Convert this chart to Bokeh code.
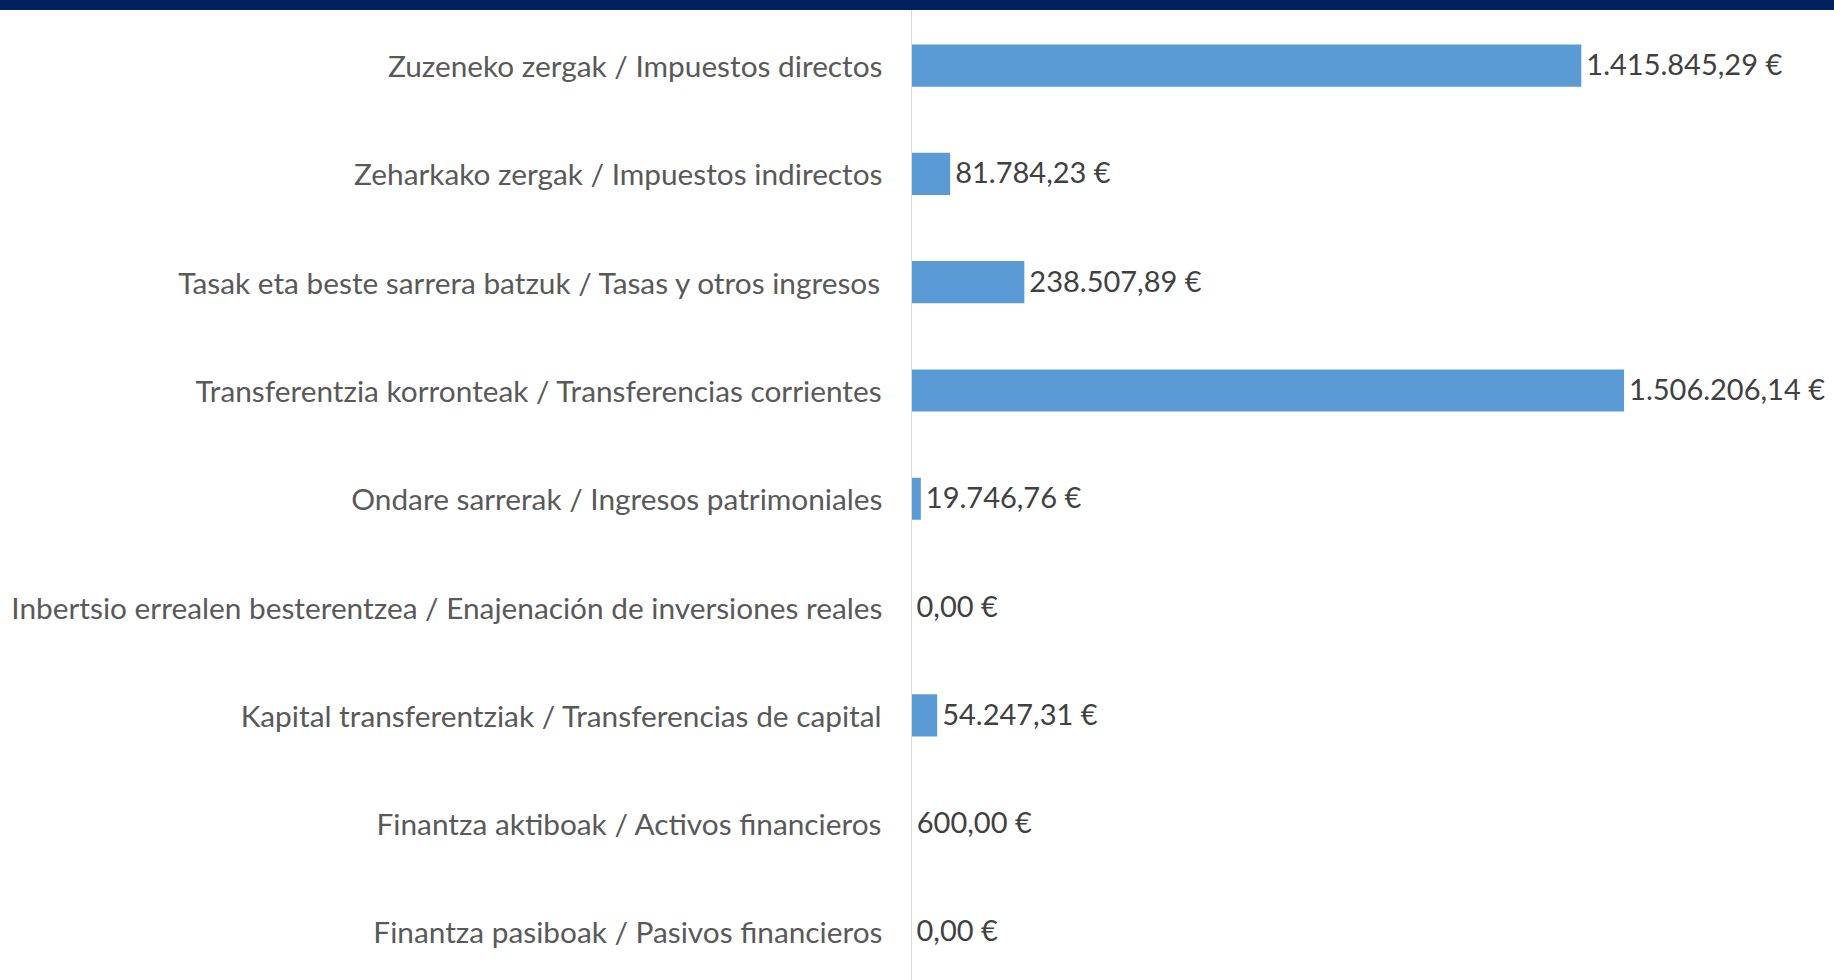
from bokeh.plotting import figure
from bokeh.models import Range1d, FixedTicker, Div, ColumnDataSource
from bokeh.layouts import column
from bokeh.embed import file_html
from bokeh.resources import INLINE
from bokeh.core.properties import value

categories = [
    "Zuzeneko zergak / Impuestos directos",
    "Zeharkako zergak / Impuestos indirectos",
    "Tasak eta beste sarrera batzuk / Tasas y otros ingresos",
    "Transferentzia korronteak / Transferencias corrientes",
    "Ondare sarrerak / Ingresos patrimoniales",
    "Inbertsio errealen besterentzea / Enajenación de inversiones reales",
    "Kapital transferentziak / Transferencias de capital",
    "Finantza aktiboak / Activos financieros",
    "Finantza pasiboak / Pasivos financieros",
]
amounts = [1415845.29, 81784.23, 238507.89, 1506206.14, 19746.76, 0.00, 54247.31, 600.00, 0.00]


def fmt_eur(v):
    s = f"{v:,.2f}"
    s = s.replace(",", "X").replace(".", ",").replace("X", ".")
    return s + " €"


idx = list(range(len(categories)))
labels = [fmt_eur(v) for v in amounts]
src = ColumnDataSource(dict(y=idx, x=amounts, label=labels))

W, H = 1834, 980
BAND = 10

p = figure(width=W, height=H - BAND, output_backend="svg", toolbar_location=None,
           x_range=Range1d(0, 1951000), y_range=Range1d(8.45, -0.51),
           x_axis_location=None, min_border_left=911, min_border_right=0,
           min_border_top=0, min_border_bottom=0)
p.outline_line_color = None
p.xgrid.visible = False
p.ygrid.visible = False
p.background_fill_color = "white"
p.border_fill_color = "white"

p.hbar(y="y", right="x", left=0, height=0.39, source=src,
       fill_color="#5B9BD5", line_color=None)

p.text(x="x", y="y", text="label", source=src, x_offset=5, y_offset=-2,
       text_baseline="middle", text_align="left",
       text_font=value("Lato"), text_font_size="29px", text_color="#404040")

ax = p.yaxis[0]
ax.ticker = FixedTicker(ticks=idx)
ax.major_label_overrides = {i: c for i, c in enumerate(categories)}
ax.major_tick_line_color = None
ax.minor_tick_line_color = None
ax.major_tick_out = 0
ax.major_tick_in = 0
ax.major_label_standoff = 29
ax.axis_line_color = "#D9D9D9"
ax.axis_line_width = 1
ax.major_label_text_font = "Lato"
ax.major_label_text_font_size = "29.8px"
ax.major_label_text_color = "#595959"

band = Div(width=W, height=BAND, margin=(0, 0, 0, 0),
           styles={"background-color": "#002060"})
layout = column(band, p, spacing=0)

open("out.html", "w").write(file_html(layout, INLINE))
